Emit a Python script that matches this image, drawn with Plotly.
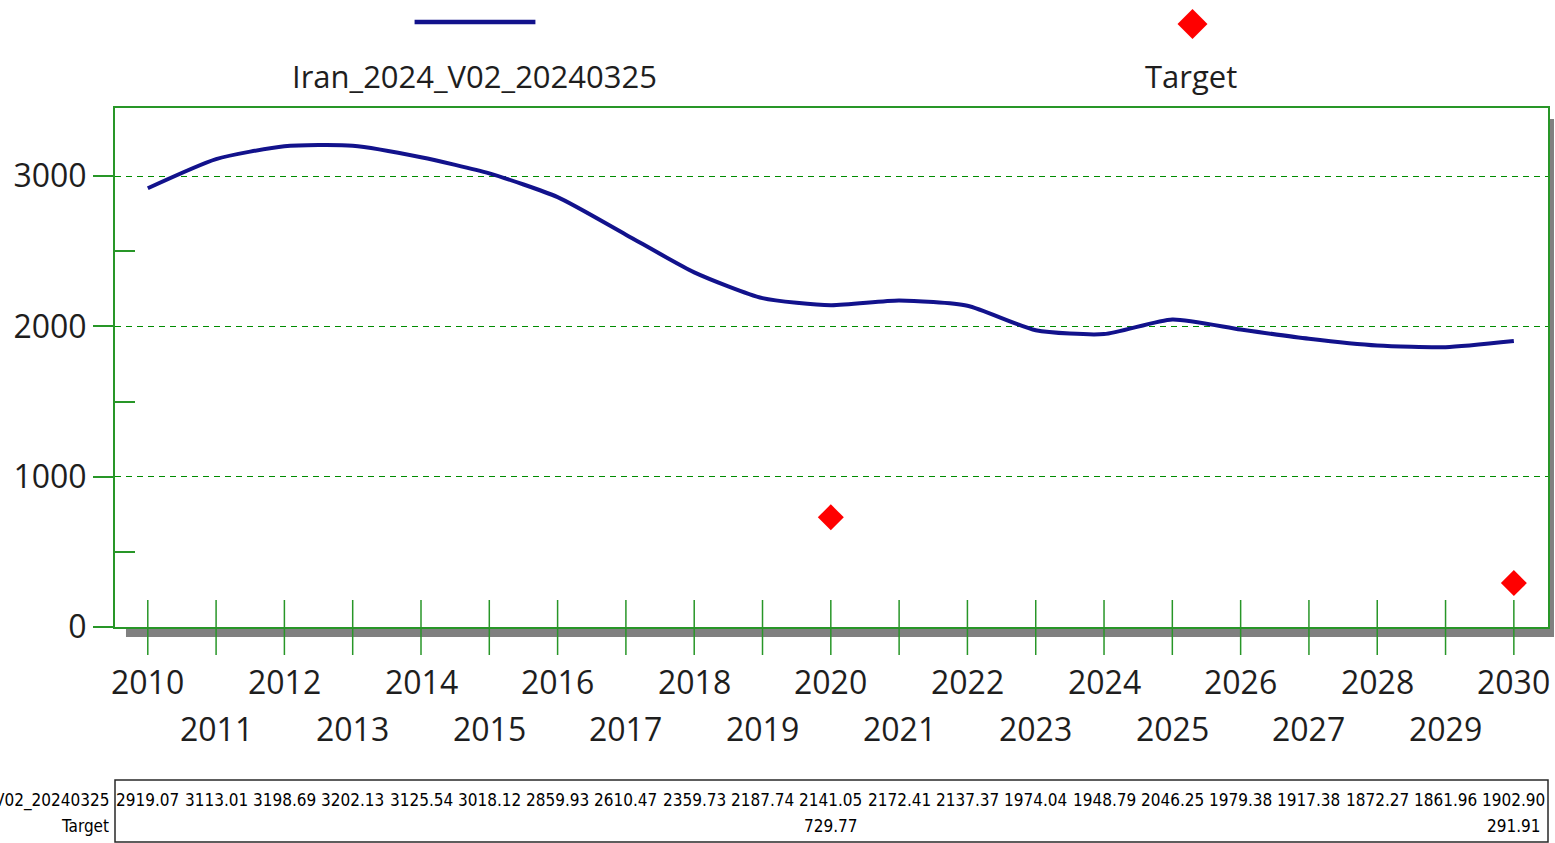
import plotly.graph_objects as go

years = list(range(2010, 2031))
series_name = "Iran_2024_V02_20240325"
series_values = [2919.07, 3113.01, 3198.69, 3202.13, 3125.54, 3018.12, 2859.93, 2610.47,
                 2359.73, 2187.74, 2141.05, 2172.41, 2137.37, 1974.04, 1948.79, 2046.25,
                 1979.38, 1917.38, 1872.27, 1861.96, 1902.90]
target_years = [2020, 2030]
target_values = [729.77, 291.91]
y_ticks = [0, 1000, 2000, 3000]

W, H = 1555, 843
PL, PR, PT, PB = 115, 1550, 108, 627  # plot area in page pixels
L, T = PL, PT
R = W - PR
B = H - PB
PW = PR - PL
PH = PB - PT

def py(p):
    return (PB - p) / PH

def px(p):
    return (p - PL) / PW

GREEN = "rgb(40,150,40)"
NAVY = "rgb(18,18,140)"
FONT = "Open Sans, Noto Sans, DejaVu Sans, sans-serif"
NARROW = "Liberation Sans Narrow, DejaVu Sans Condensed, Arial Narrow, sans-serif"

fig = go.Figure()
fig.add_trace(go.Scatter(x=years, y=series_values, mode="lines", name=series_name,
                         line=dict(color=NAVY, width=4, shape="spline", smoothing=0.6),
                         showlegend=False))
fig.add_trace(go.Scatter(x=target_years, y=target_values, mode="markers", name="Target",
                         marker=dict(symbol="diamond", color="red", size=20),
                         showlegend=False, cliponaxis=False))

shapes = []
# shadows
shapes.append(dict(type="rect", xref="paper", yref="paper", x0=px(126), x1=px(1556),
                   y0=py(637), y1=py(628), fillcolor="rgb(128,128,128)", line=dict(width=0),
                   layer="below"))
shapes.append(dict(type="rect", xref="paper", yref="paper", x0=px(1551), x1=px(1556),
                   y0=py(637), y1=py(119), fillcolor="rgb(128,128,128)", line=dict(width=0),
                   layer="below"))
# x tick marks crossing the axis
for yr in years:
    shapes.append(dict(type="line", xref="x", yref="paper", x0=yr, x1=yr,
                       y0=py(655), y1=py(600), line=dict(color=GREEN, width=1.5)))
# legend line sample
shapes.append(dict(type="line", xref="paper", yref="paper", x0=px(415), x1=px(536),
                   y0=py(22), y1=py(22), line=dict(color=NAVY, width=4.5)))
# legend diamond
cx, cy, hw = 1194, 24, 15
shapes.append(dict(type="path", xref="paper", yref="paper",
                   path=f"M {px(cx)},{py(cy-hw)} L {px(cx+hw)},{py(cy)} L {px(cx)},{py(cy+hw)} L {px(cx-hw)},{py(cy)} Z",
                   fillcolor="red", line=dict(width=0)))
# data table box
shapes.append(dict(type="rect", xref="paper", yref="paper", x0=0, x1=1,
                   y0=py(842), y1=py(780), line=dict(color="rgb(40,40,40)", width=1.5)))

annotations = []
for yr in years:
    even = (yr % 2 == 0)
    annotations.append(dict(x=yr, y=py(681 if even else 728), xref="x", yref="paper",
                            text=str(yr), showarrow=False, xanchor="center", yanchor="middle",
                            font=dict(size=32, color="rgb(30,30,30)", family=FONT)))
annotations.append(dict(x=px(475), y=py(76), xref="paper", yref="paper", text=series_name,
                        showarrow=False, xanchor="center", yanchor="middle",
                        font=dict(size=31, color="rgb(30,30,30)", family=FONT)))
annotations.append(dict(x=px(1193), y=py(76), xref="paper", yref="paper", text="Target",
                        showarrow=False, xanchor="center", yanchor="middle",
                        font=dict(size=31, color="rgb(30,30,30)", family=FONT)))
# table
TS = 17
annotations.append(dict(x=px(111), y=py(800), xref="paper", yref="paper", text=series_name,
                        showarrow=False, xanchor="right", yanchor="middle",
                        font=dict(size=TS, color="black", family=NARROW)))
annotations.append(dict(x=px(111), y=py(826), xref="paper", yref="paper", text="Target",
                        showarrow=False, xanchor="right", yanchor="middle",
                        font=dict(size=TS, color="black", family=NARROW)))
for yr, v in zip(years, series_values):
    annotations.append(dict(x=yr, y=py(800), xref="x", yref="paper", text=f"{v:.2f}",
                            showarrow=False, xanchor="center", yanchor="middle",
                            font=dict(size=TS, color="black", family=NARROW)))
for yr, v in zip(target_years, target_values):
    annotations.append(dict(x=yr, y=py(826), xref="x", yref="paper", text=f"{v:.2f}",
                            showarrow=False, xanchor="center", yanchor="middle",
                            font=dict(size=TS, color="black", family=NARROW)))

fig.update_layout(
    width=W, height=H,
    margin=dict(l=L, r=R, t=T, b=B),
    paper_bgcolor="white", plot_bgcolor="white",
    shapes=shapes, annotations=annotations,
    showlegend=False,
    xaxis=dict(range=[2009.52, 2030.5], showticklabels=False, ticks="",
               showgrid=False, zeroline=False, showline=True, linecolor=GREEN,
               linewidth=2, mirror=True),
    yaxis=dict(range=[0, 3453], tickvals=y_ticks, ticktext=[str(v) for v in y_ticks],
               ticks="outside", ticklen=20, tickwidth=1.5, tickcolor=GREEN,
               tickfont=dict(size=32, color="rgb(30,30,30)", family=FONT),
               showgrid=True, gridcolor="rgb(0,140,0)", griddash="6px,5px", gridwidth=1.2,
               zeroline=False, showline=True, linecolor=GREEN, linewidth=2, mirror=True,
               minor=dict(tickvals=[500, 1500, 2500], ticks="inside", ticklen=20,
                          tickwidth=1.5, tickcolor=GREEN, showgrid=False)),
)

fig.write_html("out.html", config={"displayModeBar": False},
               post_script="document.body.style.margin='0';document.body.style.padding='0';"
                           "document.body.style.overflow='hidden';")
